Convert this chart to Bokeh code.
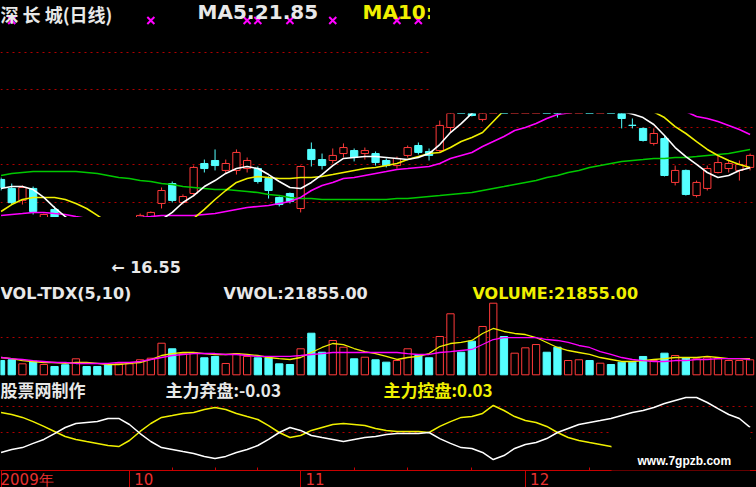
import numpy as np
from bokeh.plotting import figure
from bokeh.models import Range1d, FixedTicker, Grid, LinearAxis, Label, ColumnDataSource
from bokeh.layouts import column, row
from bokeh.embed import file_html
from bokeh.resources import INLINE
from bokeh.core.properties import value

# ---------------- data: 深长城 daily bars, Sep-Dec 2009 ----------------
months = ["2009年", "10", "11", "12"]
month_first_bar = [0, 12, 28, 49]
week_marks = [16, 20, 24, 33, 38, 44, 55]
signal_bars = [1, 14, 23, 24, 27, 31, 37, 39]

open_ = [21.23, 20.75, 20.11, 20.75, 18.77, 19.63, 18.93, 18.19, 18.51, 17.81,
         17.17, 16.80, 17.49, 18.19, 18.77, 19.95, 21.01, 20.00, 20.48, 22.08,
         22.24, 21.71, 21.71, 21.81, 21.81, 21.28, 20.27, 20.48, 19.68, 22.83,
         22.29, 22.24, 22.61, 22.77, 22.61, 22.61, 22.24, 21.97, 22.51, 23.04,
         22.72, 22.77, 24.00, 25.44, 25.44, 24.43, 25.33, 26.40, 25.65, 26.24,
         26.88, 27.36, 26.72, 25.87, 26.08, 26.29, 25.49, 25.71, 25.17, 24.12,
         23.95, 23.15, 23.41, 21.07, 21.71, 20.37, 20.75, 21.60, 21.81, 21.71, 21.87]
high = [21.33, 21.01, 20.91, 20.85, 19.41, 19.79, 19.15, 18.83, 18.67, 17.97,
        17.44, 17.71, 18.40, 19.41, 19.52, 20.80, 21.12, 20.43, 21.97, 22.29,
        22.83, 22.29, 22.83, 22.40, 21.92, 21.39, 20.32, 20.53, 21.97, 23.20,
        22.61, 22.88, 23.15, 22.88, 22.93, 22.72, 22.35, 22.45, 23.04, 23.20,
        22.88, 24.37, 25.23, 25.71, 25.65, 25.71, 26.77, 26.72, 26.51, 27.15,
        27.68, 27.57, 26.83, 26.40, 26.61, 26.40, 25.97, 25.87, 25.44, 24.48,
        24.00, 23.95, 23.52, 21.97, 21.76, 21.17, 21.97, 22.51, 22.24, 22.24, 22.61]
low = [20.64, 19.89, 19.89, 19.36, 18.51, 18.61, 18.19, 17.97, 17.65, 16.96,
       16.55, 16.64, 17.33, 18.08, 18.61, 19.68, 20.00, 19.89, 20.32, 21.60,
       21.71, 21.55, 21.49, 21.60, 21.01, 20.21, 19.79, 19.95, 19.47, 21.92,
       21.76, 22.08, 22.40, 22.19, 22.29, 21.97, 21.87, 21.81, 22.40, 22.56,
       22.24, 22.67, 23.73, 24.85, 24.59, 24.32, 25.23, 25.55, 25.49, 26.08,
       26.72, 26.56, 24.53, 25.65, 25.87, 25.39, 25.28, 25.01, 23.95, 23.95,
       23.25, 23.04, 21.39, 20.91, 20.37, 20.27, 20.64, 21.55, 21.60, 21.17, 21.71]
close = [20.80, 19.99, 20.80, 19.52, 19.36, 18.93, 18.40, 18.61, 17.87, 17.17,
         16.80, 17.55, 18.19, 19.31, 19.47, 20.64, 20.11, 20.32, 21.87, 21.81,
         21.97, 22.08, 22.67, 22.24, 21.12, 20.64, 19.89, 20.05, 21.92, 22.29,
         21.97, 22.51, 22.93, 22.40, 22.77, 22.13, 21.97, 22.35, 22.93, 22.67,
         22.51, 24.11, 25.01, 25.01, 24.64, 25.44, 26.51, 25.71, 26.29, 26.93,
         27.47, 26.77, 25.71, 26.19, 26.40, 25.55, 25.81, 25.17, 24.48, 24.11,
         23.31, 23.68, 21.44, 21.71, 20.43, 21.07, 21.81, 22.13, 22.08, 22.03, 22.51]

ma5 = [20.75, 20.85, 20.85, 20.69, 20.27, 19.73, 19.25, 18.77, 18.24, 17.71,
       17.44, 17.55, 17.97, 18.51, 18.93, 19.09, 19.47, 20.00, 20.37, 20.85,
       21.17, 21.55, 21.81, 21.92, 21.81, 21.49, 21.12, 20.80, 20.75, 21.07,
       21.49, 21.97, 22.35, 22.40, 22.45, 22.45, 22.40, 22.35, 22.29, 22.40,
       22.61, 23.09, 23.73, 24.21, 24.75, 25.17, 25.71, 26.24, 26.61, 26.93,
       27.04, 26.93, 26.61, 26.24, 25.87, 25.55, 25.28, 25.07, 24.85, 24.72,
       24.53, 24.16, 23.57, 22.93, 22.45, 22.03, 21.60, 21.33, 21.44, 21.71, 21.85]
ma10 = [19.52, 19.89, 20.16, 20.27, 20.27, 20.27, 20.16, 19.95, 19.68, 19.31,
        18.93, 18.61, 18.40, 18.29, 18.35, 18.51, 18.72, 18.99, 19.15, 19.63,
        20.16, 20.64, 21.07, 21.28, 21.39, 21.33, 21.28, 21.28, 21.33, 21.33,
        21.39, 21.49, 21.60, 21.71, 21.81, 21.87, 21.97, 22.08, 22.29, 22.45,
        22.61, 22.67, 22.93, 23.25, 23.47, 23.73, 24.32, 24.91, 25.33, 25.71,
        26.03, 26.29, 26.45, 26.51, 26.40, 26.24, 25.97, 25.71, 25.44, 25.28,
        25.07, 24.83, 24.53, 24.05, 23.68, 23.25, 22.83, 22.51, 22.24, 22.03, 21.87]
ma20 = [19.31, 19.36, 19.41, 19.47, 19.47, 19.41, 19.36, 19.25, 19.15, 19.09,
        19.04, 19.09, 19.15, 19.20, 19.25, 19.31, 19.31, 19.31, 19.31, 19.36,
        19.41, 19.52, 19.63, 19.73, 19.79, 19.84, 19.95, 20.05, 20.27, 20.64,
        20.91, 21.07, 21.28, 21.33, 21.44, 21.55, 21.65, 21.76, 21.81, 21.87,
        21.92, 22.08, 22.35, 22.51, 22.67, 22.99, 23.25, 23.52, 23.84, 24.00,
        24.21, 24.48, 24.69, 24.77, 24.91, 25.01, 25.12, 25.17, 25.23, 25.23,
        25.17, 25.12, 25.07, 25.01, 24.85, 24.59, 24.48, 24.32, 24.11, 23.89, 23.63]
ma60 = [21.44, 21.55, 21.60, 21.65, 21.65, 21.65, 21.65, 21.65, 21.60, 21.55,
        21.44, 21.33, 21.28, 21.17, 21.12, 21.01, 20.96, 20.85, 20.80, 20.75,
        20.69, 20.69, 20.64, 20.59, 20.53, 20.43, 20.37, 20.27, 20.21, 20.21,
        20.16, 20.16, 20.16, 20.16, 20.16, 20.16, 20.16, 20.21, 20.21, 20.27,
        20.32, 20.37, 20.43, 20.48, 20.53, 20.64, 20.75, 20.85, 20.96, 21.07,
        21.17, 21.33, 21.44, 21.60, 21.71, 21.87, 21.97, 22.08, 22.19, 22.24,
        22.29, 22.35, 22.35, 22.40, 22.40, 22.45, 22.51, 22.56, 22.61, 22.72, 22.83]

volume = [20800, 21900, 16000, 19800, 15000, 12100, 14600, 23300, 12100, 12100,
          14600, 16000, 16000, 21900, 24200, 46000, 37900, 30600, 32500, 24800,
          26700, 16500, 30600, 26700, 24800, 24800, 16000, 15000, 37900, 60600,
          32900, 50000, 40200, 23300, 25600, 21900, 18400, 20800, 37900, 28100,
          24800, 55800, 88900, 32900, 49000, 70400, 104300, 55800, 31500, 39300,
          44100, 32900, 40200, 20800, 21900, 20800, 16900, 15000, 18400, 18400,
          26700, 20800, 31500, 28100, 24800, 23300, 24800, 23300, 20800, 20800, 21855]
vol_ma5 = [25200, 23700, 20800, 19400, 17900, 17900, 16500, 17900, 17900, 16500,
           15000, 15000, 16500, 17900, 22300, 28100, 31000, 32500, 32500, 31000,
           29600, 29600, 31000, 29600, 28100, 25200, 23700, 22300, 25200, 32500,
           39800, 45600, 44100, 38300, 33900, 31000, 26700, 22300, 25200, 26700,
           31000, 41200, 45600, 47100, 50000, 60200, 67500, 63100, 60200, 58700,
           54300, 47100, 39800, 35400, 32500, 29600, 25200, 22300, 19400, 19400,
           20800, 22300, 23700, 25200, 25200, 25200, 26700, 25200, 23700, 23700, 23700]
vol_ma10 = [25200, 23700, 22300, 20800, 19400, 17900, 17900, 16500, 16500, 16500,
            16500, 17900, 17900, 19400, 22300, 25200, 28100, 29600, 31000, 31000,
            31000, 29600, 29600, 28100, 26700, 26700, 26700, 26700, 28100, 29600,
            31000, 32500, 32500, 32500, 32500, 32500, 32500, 32500, 31000, 29600,
            29600, 32500, 33900, 35400, 36900, 44100, 51400, 54300, 54300, 54300,
            54300, 51400, 50000, 47100, 42700, 39800, 33900, 29600, 25200, 22300,
            20800, 19400, 19400, 20800, 20800, 22300, 22300, 23700, 23700, 23700, 22300]

fund_exit = [0.115, 0.098, 0.087, 0.063, 0.040, 0.006, -0.029, -0.052, -0.058, -0.063,
             -0.081, -0.081, -0.046, 0.006, 0.052, 0.087, 0.098, 0.110, 0.121, 0.138,
             0.150, 0.138, 0.115, 0.098, 0.075, 0.040, 0.000, -0.029, -0.012, 0.017,
             0.029, 0.040, 0.052, 0.040, 0.029, 0.023, 0.012, 0.006, 0.006, 0.006,
             0.000, 0.035, 0.063, 0.087, 0.092, 0.115, 0.156, 0.133, 0.092, 0.069,
             0.058, 0.035, 0.000, -0.023, -0.046, -0.058, -0.069, -0.081, -0.098, -0.115,
             -0.127, -0.144, -0.167, -0.185, -0.202, -0.202, -0.173, -0.138, -0.104, -0.081, -0.030]
fund_ctrl = [-0.115, -0.104, -0.087, -0.063, -0.035, -0.006, 0.023, 0.040, 0.052, 0.063,
             0.075, 0.081, 0.046, -0.006, -0.052, -0.087, -0.098, -0.110, -0.115, -0.133,
             -0.144, -0.133, -0.110, -0.092, -0.075, -0.040, 0.000, 0.029, 0.017, -0.012,
             -0.029, -0.046, -0.052, -0.046, -0.040, -0.023, -0.012, -0.006, -0.006, -0.006,
             0.000, -0.035, -0.063, -0.087, -0.092, -0.110, -0.156, -0.127, -0.092, -0.069,
             -0.058, -0.035, 0.000, 0.029, 0.046, 0.058, 0.069, 0.081, 0.098, 0.115,
             0.127, 0.144, 0.167, 0.185, 0.202, 0.202, 0.173, 0.138, 0.104, 0.081, 0.030]

# ---------------- geometry & style ----------------
W = 756
X_START, X_END = -0.05, 70.6
PX_PER_BAR = W / (X_END - X_START)
BAR_W = 0.68
PRICE_TOP = 30.773          # price at the top row of the window
PX_PER_YUAN = 18.75
VOL_PER_PX = 1457.0
VOL_BASE_ROW = 374.3
IND_PER_PX = 0.03 / 5.2
IND_ZERO_ROW = 432.0

BG = "#000000"
RED = "#ff3a3a"
CYAN = "#54ffff"
GRID_RED = "#b00000"
AXIS_RED = "#c80000"
LABEL_RED = "#e83030"
WHITE = "#e8e8e8"
YELLOW = "#f0f000"
MAGENTA = "#ff00ff"
GREEN = "#00c800"
CJK = value("Noto Sans CJK SC")
LATIN = value("DejaVu Sans")
BLACK_STYLE = {"background-color": BG}


def bx(px):
    return X_START + px / PX_PER_BAR


def price_at(row_px):
    return PRICE_TOP - row_px / PX_PER_YUAN


def vol_at(row_px):
    return (VOL_BASE_ROW - row_px) * VOL_PER_PX


def ind_at(row_px):
    return (row_px - IND_ZERO_ROW) * IND_PER_PX


def panel(y_range, x_range, **size):
    p = figure(x_range=x_range, y_range=y_range, output_backend="svg",
               toolbar_location=None, x_axis_location=None, y_axis_location=None,
               min_border=0, background_fill_color=BG, border_fill_color=BG,
               outline_line_color=None, styles=BLACK_STYLE, **size)
    p.grid.visible = False
    return p


def dotted_grid(p, ticks):
    p.add_layout(Grid(dimension=1, ticker=FixedTicker(ticks=ticks),
                      grid_line_color=GRID_RED, grid_line_dash="2 4", grid_line_width=1))


n = len(close)
idx = np.arange(n)
up = [c >= o for o, c in zip(open_, close)]
bars = ColumnDataSource(dict(
    x=idx, high=high, low=low,
    top=np.maximum(open_, close), bottom=np.minimum(open_, close),
    vol=volume,
    line=[RED if u else CYAN for u in up],
    fill=[BG if u else CYAN for u in up],
))
x_full = Range1d(X_START, X_END)

# ---------------- header strip: title, signals, upper grid ----------------
head = panel(Range1d(price_at(113), price_at(0)), Range1d(X_START, bx(430)),
             width=430, height=113)
dotted_grid(head, [20, 22, 24, 26, 28])
head.scatter(signal_bars, [price_at(20)] * len(signal_bars), marker="x",
             size=10, line_width=2, color=MAGENTA)
head.text([bx(0)], [price_at(0)], text=["深 长 城(日线)"], text_font=CJK,
          text_font_size="18px", text_font_style="bold", text_color=WHITE,
          text_baseline="top")
head.text([bx(197), bx(362)], [price_at(-1)] * 2,
          text=[f"MA5:{ma5[-1]:.2f}", f"MA10:{ma10[-1]:.2f}"],
          text_font=LATIN, text_font_size="20px", text_font_style="bold",
          text_color=[WHITE, YELLOW], text_baseline="top")

filler = panel(Range1d(0, 1), Range1d(0, 1), width=W - 430, height=113)

# ---------------- candlesticks and moving averages ----------------
price = panel(Range1d(price_at(217), price_at(113)), x_full, width=W, height=104)
dotted_grid(price, [20, 22, 24, 26, 28])
price.segment("x", "low", "x", "high", line_color="line", source=bars)
price.vbar(x="x", width=BAR_W, top="top", bottom="bottom", fill_color="fill",
           line_color="line", source=bars)
for series, col in ((ma60, GREEN), (ma20, MAGENTA), (ma10, YELLOW), (ma5, "white")):
    price.line(idx, series, line_color=col, line_width=1.6)

# lowest-price marker
low_strip = panel(Range1d(price_at(282), price_at(217)), x_full, width=W, height=65)
lo = int(np.argmin(low))
low_strip.text([lo + 0.3], [low[lo]], text=[f"← {low[lo]:.2f}"], text_font=LATIN,
               text_font_size="16px", text_font_style="bold", text_color=WHITE,
               text_baseline="middle")

sep1 = panel(Range1d(0, 1), x_full, width=W, height=1)
sep1.background_fill_color = AXIS_RED
sep1.border_fill_color = AXIS_RED

# ---------------- volume ----------------
vol = panel(Range1d(vol_at(376), vol_at(283)), x_full, width=W, height=93)
dotted_grid(vol, [54000])
vol.vbar(x="x", width=BAR_W, top="vol", bottom=0, fill_color="fill",
         line_color="line", source=bars)
vol.line(idx, vol_ma5, line_color=YELLOW, line_width=1.3)
vol.line(idx, vol_ma10, line_color=MAGENTA, line_width=1.3)
vol.text([bx(0), bx(223), bx(472)], [vol_at(283)] * 3,
         text=["VOL-TDX(5,10)", f"VWOL:{volume[-1]:.2f}", f"VOLUME:{volume[-1]:.2f}"],
         text_font=LATIN, text_font_size="16px", text_font_style="bold",
         text_color=[WHITE, WHITE, YELLOW], text_baseline="top")

sep2 = panel(Range1d(0, 1), x_full, width=W, height=1)
sep2.background_fill_color = AXIS_RED
sep2.border_fill_color = AXIS_RED

# ---------------- 主力 indicator ----------------
ind = panel(Range1d(ind_at(470), ind_at(377)), x_full, frame_width=W, frame_height=93)
dotted_grid(ind, [0.0, -0.15])
ind.line(idx, fund_ctrl, line_color=YELLOW, line_width=1.5)
ind.line(idx, fund_exit, line_color="white", line_width=1.5)
ind.text([bx(0), bx(165)], [ind_at(376)] * 2,
         text=["股票网制作", f"主力弃盘:{fund_exit[-1]:.2f}"],
         text_font=CJK, text_font_size="17px", text_font_style="bold",
         text_color=WHITE, text_baseline="top")
ind.text([bx(383)], [ind_at(376)], text=[f"主力控盘:{fund_ctrl[-1]:.2f}"],
         text_font=CJK, text_font_size="17px", text_font_style="bold",
         text_color=YELLOW, text_baseline="top")

xa = LinearAxis(ticker=FixedTicker(ticks=month_first_bar, minor_ticks=week_marks))
NB = "\u00a0"
pads = [0, 6, 6, 6]
xa.major_label_overrides = {m: NB * k + lab for m, k, lab in zip(month_first_bar, pads, months)}
xa.axis_line_color = AXIS_RED
xa.major_tick_line_color = AXIS_RED
xa.major_tick_in = 0
xa.major_tick_out = 17
xa.minor_tick_line_color = AXIS_RED
xa.minor_tick_in = 3
xa.minor_tick_out = 0
xa.major_label_standoff = -17
xa.major_label_text_color = LABEL_RED
xa.major_label_text_font = "DejaVu Sans"
xa.major_label_text_font_size = "15px"
ind.add_layout(xa, "below")

# site watermark on a black plate over the lower right corner
ind.add_layout(Label(x=bx(611), y=ind_at(462), text="www.7gpzb.com",
                     text_color="white", text_font="Liberation Sans",
                     text_font_size="12px", text_font_style="bold",
                     text_align="left", text_baseline="middle",
                     background_fill_color=BG,
                     padding=dict(left=26, right=19, top=26, bottom=30),
                     level="overlay"))

layout = column(row(head, filler, styles=BLACK_STYLE), price, low_strip, sep1, vol, sep2, ind,
                styles=BLACK_STYLE)
open("out.html", "w").write(file_html(layout, INLINE))
